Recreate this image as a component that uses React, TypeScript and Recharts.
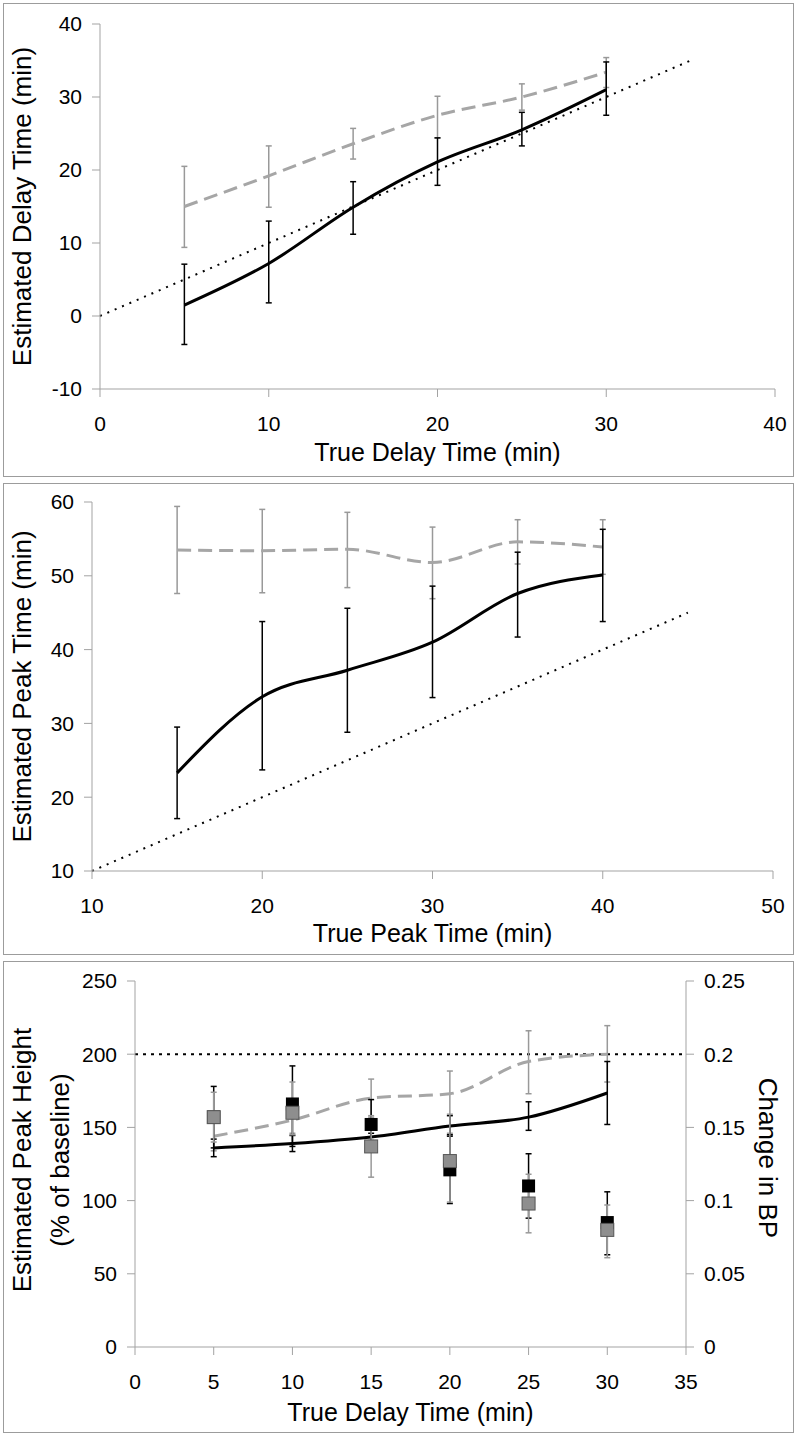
import {
  ComposedChart,
  Line,
  Scatter,
  XAxis,
  YAxis,
  ErrorBar,
  ReferenceLine,
  Label
} from 'recharts'

// ---- panel 1: delay time ----
const delayX = [5, 10, 15, 20, 25, 30]
const delayEst = [1.5, 7.2, 14.9, 21.1, 25.5, 31.0]
const delayEstLow = [-3.9, 1.8, 11.2, 17.9, 23.3, 27.5]
const delayEstHigh = [7.1, 13.0, 18.4, 24.4, 27.9, 34.8]
const delayAlt = [15.0, 19.2, 23.6, 27.5, 30.0, 33.4]
const delayAltLow = [9.4, 14.9, 21.5, 24.4, 28.2, 31.3]
const delayAltHigh = [20.5, 23.3, 25.7, 30.1, 31.8, 35.4]
const delayIdentity = [0, 35]
const delayTicksX = [0, 10, 20, 30, 40]
const delayTicksY = [-10, 0, 10, 20, 30, 40]

// ---- panel 2: peak time ----
const peakX = [15, 20, 25, 30, 35, 40]
const peakEst = [23.3, 33.6, 37.2, 41.0, 47.6, 50.1]
const peakEstLow = [17.1, 23.7, 28.8, 33.5, 41.7, 43.8]
const peakEstHigh = [29.5, 43.8, 45.6, 48.6, 53.2, 56.3]
const peakAlt = [53.5, 53.4, 53.6, 51.8, 54.6, 53.9]
const peakAltLow = [47.6, 47.7, 48.4, 46.9, 51.6, 50.2]
const peakAltHigh = [59.4, 59.0, 58.6, 56.6, 57.6, 57.6]
const peakIdentity = [10, 45]
const peakTicksX = [10, 20, 30, 40, 50]
const peakTicksY = [10, 20, 30, 40, 50, 60]

// ---- panel 3: peak height + change in BP ----
const heightX = [5, 10, 15, 20, 25, 30]
const heightEst = [136, 139, 143.5, 151, 157, 173.5]
const heightEstLow = [130, 133.5, 141, 144, 148, 152]
const heightEstHigh = [142, 144.5, 146, 158, 167.5, 195]
const heightAlt = [144, 155, 170, 173, 195, 200]
const heightAltLow = [134, 146, 157, 146, 173, 181]
const heightAltHigh = [154, 164, 183, 188.5, 216, 219.5]
const bpBlack = [0.157, 0.166, 0.152, 0.121, 0.11, 0.085]
const bpBlackLow = [0.136, 0.137, 0.134, 0.098, 0.088, 0.063]
const bpBlackHigh = [0.178, 0.192, 0.169, 0.145, 0.132, 0.106]
const bpGray = [0.157, 0.16, 0.137, 0.127, 0.098, 0.08]
const bpGrayLow = [0.14, 0.145, 0.116, 0.099, 0.078, 0.061]
const bpGrayHigh = [0.174, 0.181, 0.158, 0.159, 0.118, 0.097]
const trueHeight = 200
const heightTicksX = [0, 5, 10, 15, 20, 25, 30, 35]
const heightTicksY = [0, 50, 100, 150, 200, 250]
const bpTicks = [0, 0.05, 0.1, 0.15, 0.2, 0.25]

const font = "'Liberation Sans', Arial, sans-serif"
const axisGray = '#a3a3a3'
const lightGray = '#a6a6a6'
const barGray = '#999999'
const tickFont = 21

// error bar deltas [below, above]
const errs = (v: number[], lo: number[], hi: number[]) =>
  v.map((val, i) => [val - lo[i], hi[i] - val])

const delayEstErr = errs(delayEst, delayEstLow, delayEstHigh)
const delayAltErr = errs(delayAlt, delayAltLow, delayAltHigh)
const delayRows = delayX.map((x, i) => ({
  x, est: delayEst[i], estErr: delayEstErr[i], alt: delayAlt[i], altErr: delayAltErr[i]
}))
const delayIdentityRows = delayIdentity.map(v => ({ x: v, y: v }))

const peakEstErr = errs(peakEst, peakEstLow, peakEstHigh)
const peakAltErr = errs(peakAlt, peakAltLow, peakAltHigh)
const peakRows = peakX.map((x, i) => ({
  x, est: peakEst[i], estErr: peakEstErr[i], alt: peakAlt[i], altErr: peakAltErr[i]
}))
const peakIdentityRows = peakIdentity.map(v => ({ x: v, y: v }))

const heightEstErr = errs(heightEst, heightEstLow, heightEstHigh)
const heightAltErr = errs(heightAlt, heightAltLow, heightAltHigh)
const bpBlackErr = errs(bpBlack, bpBlackLow, bpBlackHigh)
const bpGrayErr = errs(bpGray, bpGrayLow, bpGrayHigh)
const heightRows = heightX.map((x, i) => ({
  x,
  est: heightEst[i], estErr: heightEstErr[i],
  alt: heightAlt[i], altErr: heightAltErr[i],
  bpA: bpBlack[i], bpAErr: bpBlackErr[i],
  bpB: bpGray[i], bpBErr: bpGrayErr[i]
}))

const tickStyle = { fill: '#000', fontSize: tickFont, fontFamily: font }
const titleProps = { fill: '#000', fontFamily: font }

const blackSquare = (p: any) => (
  <rect x={p.cx - 6.5} y={p.cy - 6.5} width={13} height={13} fill="#000" />
)
const graySquare = (p: any) => (
  <rect x={p.cx - 6.5} y={p.cy - 6.5} width={13} height={13} fill="#8e8e8e" stroke="#555" strokeWidth={1} />
)

function Frame({ top, height }: { top: number; height: number }) {
  return (
    <div
      style={{
        position: 'absolute',
        left: 3,
        top,
        width: 791,
        height,
        border: '1px solid #9c9c9c',
        boxSizing: 'border-box'
      }}
    />
  )
}

export default function App() {
  return (
    <div style={{ position: 'absolute', left: 0, top: 0, width: 800, height: 1437, background: '#fff', fontFamily: font }}>
      <Frame top={3} height={474} />
      <Frame top={483} height={472} />
      <Frame top={961} height={472} />

      {/* Delay time */}
      <div style={{ position: 'absolute', left: 0, top: 3 }}>
        <ComposedChart width={800} height={474} data={delayRows} margin={{ top: 21, right: 25, bottom: 28, left: 40 }}>
          <XAxis
            type="number"
            dataKey="x"
            domain={[0, 40]}
            ticks={delayTicksX}
            interval={0}
            height={60}
            stroke={axisGray}
            fontSize={tickFont}
            tickSize={8}
            tickMargin={19}
            tick={tickStyle}
          >
            <Label value="True Delay Time (min)" position="center" dy={33} fontSize={25} {...titleProps} />
          </XAxis>
          <YAxis
            type="number"
            domain={[-10, 40]}
            ticks={delayTicksY}
            interval={0}
            width={60}
            stroke={axisGray}
            fontSize={tickFont}
            tickSize={8}
            tickMargin={10}
            tick={tickStyle}
          >
            <Label value="Estimated Delay Time (min)" position="center" angle={-90} dx={-48} fontSize={26} {...titleProps} />
          </YAxis>
          <Line data={delayIdentityRows} dataKey="y" stroke="#000" strokeWidth={2} strokeDasharray="2 6" dot={false} isAnimationActive={false} />
          <Line dataKey="alt" type="monotone" stroke={lightGray} strokeWidth={3} strokeDasharray="14 7" dot={false} isAnimationActive={false}>
            <ErrorBar dataKey="altErr" width={3} stroke={barGray} strokeWidth={1.5} direction="y" />
          </Line>
          <Line dataKey="est" type="monotone" stroke="#000" strokeWidth={3} dot={false} isAnimationActive={false}>
            <ErrorBar dataKey="estErr" width={3} stroke="#000" strokeWidth={1.5} direction="y" />
          </Line>
        </ComposedChart>
      </div>

      {/* Peak time */}
      <div style={{ position: 'absolute', left: 0, top: 483 }}>
        <ComposedChart width={800} height={472} data={peakRows} margin={{ top: 19, right: 27, bottom: 24, left: 32 }}>
          <XAxis
            type="number"
            dataKey="x"
            domain={[10, 50]}
            ticks={peakTicksX}
            interval={0}
            height={60}
            stroke={axisGray}
            fontSize={tickFont}
            tickSize={8}
            tickMargin={19}
            tick={tickStyle}
          >
            <Label value="True Peak Time (min)" position="center" dy={32} fontSize={25} {...titleProps} />
          </XAxis>
          <YAxis
            type="number"
            domain={[10, 60]}
            ticks={peakTicksY}
            interval={0}
            width={60}
            stroke={axisGray}
            fontSize={tickFont}
            tickSize={8}
            tickMargin={10}
            tick={tickStyle}
          >
            <Label value="Estimated Peak Time (min)" position="center" angle={-90} dx={-40} fontSize={26} {...titleProps} />
          </YAxis>
          <Line data={peakIdentityRows} dataKey="y" stroke="#000" strokeWidth={2} strokeDasharray="2 6" dot={false} isAnimationActive={false} />
          <Line dataKey="alt" type="monotone" stroke={lightGray} strokeWidth={3} strokeDasharray="14 7" dot={false} isAnimationActive={false}>
            <ErrorBar dataKey="altErr" width={3} stroke={barGray} strokeWidth={1.5} direction="y" />
          </Line>
          <Line dataKey="est" type="monotone" stroke="#000" strokeWidth={3} dot={false} isAnimationActive={false}>
            <ErrorBar dataKey="estErr" width={3} stroke="#000" strokeWidth={1.5} direction="y" />
          </Line>
        </ComposedChart>
      </div>

      {/* Peak height and change in BP */}
      <div style={{ position: 'absolute', left: 0, top: 961 }}>
        <ComposedChart width={800} height={472} data={heightRows} margin={{ top: 20, right: 54, bottom: 26, left: 75 }}>
          <XAxis
            type="number"
            dataKey="x"
            domain={[0, 35]}
            ticks={heightTicksX}
            interval={0}
            height={60}
            stroke={axisGray}
            fontSize={tickFont}
            tickSize={8}
            tickMargin={19}
            tick={tickStyle}
          >
            <Label value="True Delay Time (min)" position="center" dy={35} fontSize={25} {...titleProps} />
          </XAxis>
          <YAxis
            yAxisId="left"
            type="number"
            domain={[0, 250]}
            ticks={heightTicksY}
            interval={0}
            width={60}
            stroke={axisGray}
            fontSize={tickFont}
            tickSize={8}
            tickMargin={10}
            tick={tickStyle}
          >
            <Label value="Estimated Peak Height" position="center" angle={-90} dx={-83} dy={-4} fontSize={26} {...titleProps} />
            <Label value="(% of baseline)" position="center" angle={-90} dx={-45} dy={-4} fontSize={26} {...titleProps} />
          </YAxis>
          <YAxis
            yAxisId="right"
            orientation="right"
            type="number"
            domain={[0, 0.25]}
            ticks={bpTicks}
            interval={0}
            width={60}
            stroke={axisGray}
            fontSize={tickFont}
            tickSize={8}
            tickMargin={10}
            tick={tickStyle}
          >
            <Label value="Change in BP" position="center" angle={90} dx={52} dy={-6} fontSize={26} {...titleProps} />
          </YAxis>
          <ReferenceLine yAxisId="left" y={trueHeight} stroke="#000" strokeWidth={2} strokeDasharray="3 5" />
          <Line yAxisId="left" dataKey="alt" type="monotone" stroke={lightGray} strokeWidth={3} strokeDasharray="14 7" dot={false} isAnimationActive={false}>
            <ErrorBar dataKey="altErr" width={3} stroke={barGray} strokeWidth={1.5} direction="y" />
          </Line>
          <Line yAxisId="left" dataKey="est" type="monotone" stroke="#000" strokeWidth={3} dot={false} isAnimationActive={false}>
            <ErrorBar dataKey="estErr" width={3} stroke="#000" strokeWidth={1.5} direction="y" />
          </Line>
          <Scatter yAxisId="right" dataKey="bpA" shape={blackSquare} isAnimationActive={false}>
            <ErrorBar dataKey="bpAErr" width={3} stroke="#000" strokeWidth={1.5} direction="y" />
          </Scatter>
          <Scatter yAxisId="right" dataKey="bpB" shape={graySquare} isAnimationActive={false}>
            <ErrorBar dataKey="bpBErr" width={3} stroke={barGray} strokeWidth={1.5} direction="y" />
          </Scatter>
        </ComposedChart>
      </div>
    </div>
  )
}
